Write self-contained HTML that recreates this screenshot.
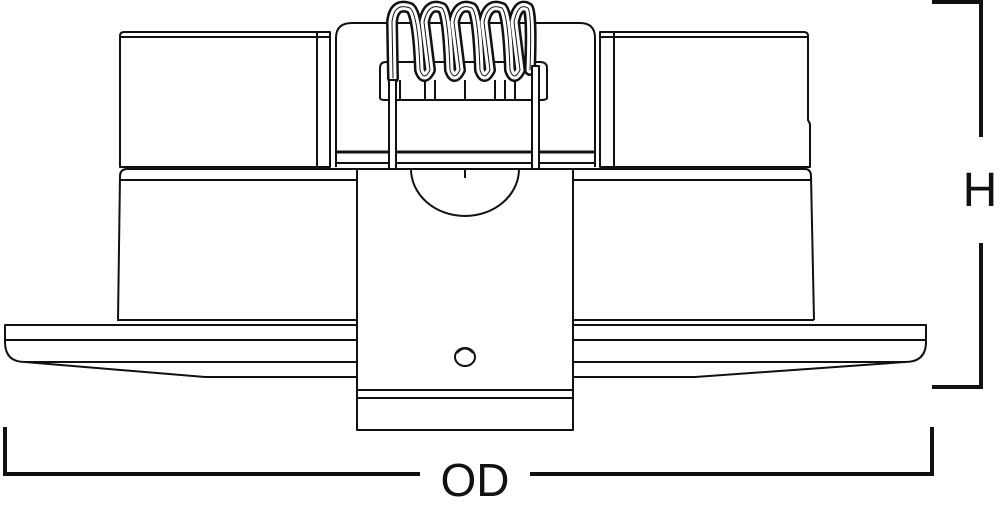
<!DOCTYPE html>
<html><head><style>html,body{margin:0;padding:0;background:#fff;width:1000px;height:507px;overflow:hidden}</style></head>
<body>
<svg width="1000" height="507" viewBox="0 0 1000 507" xmlns="http://www.w3.org/2000/svg">
<g fill="none" stroke="#111" stroke-width="2" stroke-linejoin="round">
 <!-- housing behind -->
 <path d="M336 167 V38 Q336 23 352 23 H580 Q595 23 595 38 V167"/>
 <line x1="336" y1="152" x2="596" y2="152" stroke-width="3"/>
 <line x1="336" y1="163" x2="596" y2="163"/>
 <!-- clip bracket -->
 <path d="M380 98 V68 Q380 62 386 62 H540 Q547 62 547 68 V98 Q547 100 540 100 H386 Q380 100 380 98Z" fill="#fff"/>
 <line x1="400" y1="80" x2="400" y2="100"/><line x1="425" y1="80" x2="425" y2="100"/>
 <line x1="435" y1="80" x2="435" y2="100"/><line x1="465" y1="80" x2="465" y2="100"/>
 <line x1="495" y1="80" x2="495" y2="100"/><line x1="505" y1="80" x2="505" y2="100"/>
 <line x1="515" y1="80" x2="515" y2="100"/>
 <!-- left box -->
 <path d="M120 167 V36 Q120 32 124 32 H330 V167 Z" fill="#fff"/>
 <line x1="120" y1="37" x2="330" y2="37"/>
 <line x1="317" y1="32" x2="317" y2="167"/>
 <!-- right box -->
 <path d="M600 167 V32 H804 Q808 32 808 36 V120 L810 124 V167 Z" fill="#fff"/>
 <line x1="600" y1="37" x2="808" y2="37"/>
 <line x1="614" y1="32" x2="614" y2="167"/>
 <!-- lower body -->
 <path d="M118 320 L120 176 Q120 170 126 169 H806 Q811 170 811 176 L814 320"/>
 <line x1="119" y1="180" x2="811" y2="180"/>
 <line x1="117" y1="320" x2="814" y2="320"/>
 <!-- flange -->
 <path d="M5 325 H926 V342 Q926 362 905 362 L695 377 H205 L25 362 Q5 362 5 342 Z" fill="#fff"/>
 <line x1="5" y1="340" x2="926" y2="340"/>
 <line x1="25" y1="362" x2="905" y2="362"/>
 <!-- spring -->
 <g stroke-linecap="round">
  <path d="M393 78 L392 22 Q394 2 410 8 Q418 14 420 70 Q424 82 430 70 L424 22 Q428 2 442 8 Q448 14 450 70 Q454 82 460 70 L454 22 Q458 2 472 8 Q478 14 480 70 Q484 82 490 70 L484 22 Q488 2 502 8 Q508 14 510 70 Q514 82 520 70 L514 22 Q518 2 528 8 Q532 14 530 70" stroke="#111" stroke-width="12"/>
  <path d="M393 78 L392 22 Q394 2 410 8 Q418 14 420 70 Q424 82 430 70 L424 22 Q428 2 442 8 Q448 14 450 70 Q454 82 460 70 L454 22 Q458 2 472 8 Q478 14 480 70 Q484 82 490 70 L484 22 Q488 2 502 8 Q508 14 510 70 Q514 82 520 70 L514 22 Q518 2 528 8 Q532 14 530 70" stroke="#fff" stroke-width="7"/>
  <path d="M393 78 L392 22 Q394 2 410 8 Q418 14 420 70 Q424 82 430 70 L424 22 Q428 2 442 8 Q448 14 450 70 Q454 82 460 70 L454 22 Q458 2 472 8 Q478 14 480 70 Q484 82 490 70 L484 22 Q488 2 502 8 Q508 14 510 70 Q514 82 520 70 L514 22 Q518 2 528 8 Q532 14 530 70" stroke="#111" stroke-width="1"/>
 </g>
 <!-- wires -->
 <rect x="389" y="80" width="7" height="89" fill="#fff"/>
 <rect x="532" y="66" width="7" height="103" fill="#fff"/>
 <!-- clip plate -->
 <rect x="357" y="169" width="216" height="261" fill="#fff"/>
 <path d="M411 169 A54 47 0 0 0 519 169"/>
 <line x1="465" y1="169" x2="465" y2="178"/>
 <line x1="357" y1="390" x2="573" y2="390"/>
 <line x1="357" y1="398" x2="573" y2="398"/>
 <ellipse cx="465" cy="357" rx="10" ry="9"/>
 <path d="M457 353 Q465 344 473 353"/>
</g>
<!-- dimensions -->
<g fill="none" stroke="#111" stroke-width="4">
 <path d="M932 2 H981 V137"/>
 <path d="M981 243 V387 H932"/>
 <path d="M5 427 V474 H420"/>
 <path d="M530 474 H932 V427"/>
</g>
<text x="980" y="206" font-family="Liberation Sans, sans-serif" font-size="48" text-anchor="middle" fill="#111">H</text>
<text x="475" y="496" font-family="Liberation Sans, sans-serif" font-size="46" text-anchor="middle" fill="#111">OD</text>
</svg>
</body></html>
